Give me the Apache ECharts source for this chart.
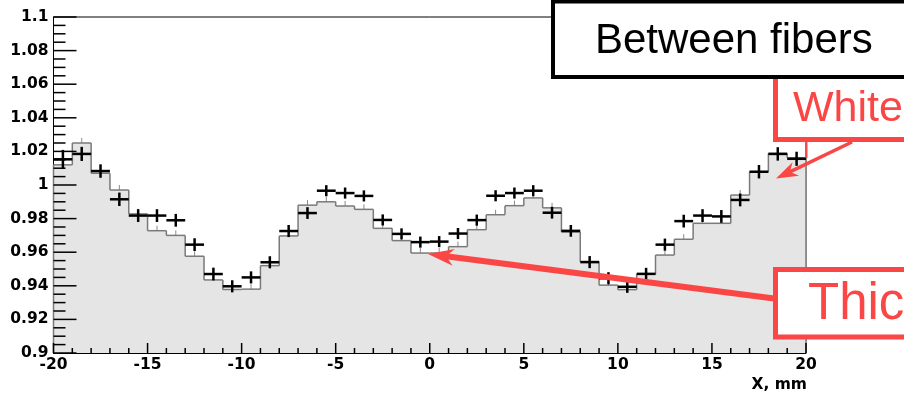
<!DOCTYPE html>
<html><head><meta charset="utf-8">
<script src="https://cdn.jsdelivr.net/npm/echarts@6/dist/echarts.min.js"></script>
<style>html,body{margin:0;padding:0;background:#fff}#c{width:904px;height:396px}</style>
</head><body><div id="c"></div>
<script>
// ---- data ----
const binCenters = [-19.5,-18.5,-17.5,-16.5,-15.5,-14.5,-13.5,-12.5,-11.5,-10.5,
  -9.5,-8.5,-7.5,-6.5,-5.5,-4.5,-3.5,-2.5,-1.5,-0.5,
  0.5,1.5,2.5,3.5,4.5,5.5,6.5,7.5,8.5,9.5,
  10.5,11.5,12.5,13.5,14.5,15.5,16.5,17.5,18.5,19.5];
const binWidth = 1;
const histValues = [1.012,1.025,1.007,0.997,0.9828,0.9728,0.9700,0.9576,0.9435,0.9378,
  0.9380,0.9520,0.9697,0.9880,0.9900,0.9875,0.9855,0.9742,0.9669,0.9595,
  0.9595,0.9633,0.9734,0.9823,0.9877,0.9923,0.9864,0.9720,0.9544,0.9404,
  0.9377,0.9469,0.9583,0.9677,0.9772,0.9772,0.9940,1.0079,1.0188,1.0162];
const histErrors = [0.003,0.003,0.003,0.003,0.003,0.003,0.003,0.003,0.003,0.003,
  0.003,0.003,0.003,0.003,0.003,0.003,0.003,0.003,0.003,0.003,
  0.003,0.003,0.003,0.003,0.003,0.003,0.003,0.003,0.003,0.003,
  0.003,0.003,0.003,0.003,0.003,0.003,0.003,0.003,0.003,0.003];
const pointValues = [1.0153,1.0185,1.0083,0.9915,0.9818,0.9818,0.9790,0.9645,0.9470,0.9397,
  0.9450,0.9540,0.9726,0.9833,0.9966,0.9952,0.9935,0.9792,0.9709,0.9660,
  0.9663,0.9711,0.9791,0.9936,0.9952,0.9966,0.9835,0.9727,0.9541,0.9445,
  0.9394,0.9471,0.9645,0.9785,0.9818,0.9813,0.9911,1.0079,1.0185,1.0156];
const pointErrors = [0.0056,0.0042,0.0040,0.0040,0.0038,0.0038,0.0038,0.0038,0.0038,0.0036,
  0.0036,0.0036,0.0036,0.0035,0.0033,0.0033,0.0033,0.0033,0.0033,0.0033,
  0.0033,0.0033,0.0033,0.0033,0.0033,0.0033,0.0035,0.0035,0.0036,0.0036,
  0.0036,0.0036,0.0036,0.0038,0.0038,0.0038,0.0038,0.0040,0.0040,0.0042];
const xMin = -20, xMax = 20, xInterval = 5, xMinorStep = 1;
const yMin = 0.9, yMax = 1.1, yInterval = 0.02, yMinorStep = 0.005;
const titleText = 'Between fibers';
const labelWhite = 'White';
const labelThick = 'Thick';
const xAxisTitle = 'X, mm';

// ---- chart ----
const chart = echarts.init(document.getElementById('c'), null, {renderer: 'canvas'});
const RED = '#fb4646';
const labelFont = {color: '#000', fontWeight: 'bold', fontFamily: 'DejaVu Sans', fontSize: 15.5};
const G = {left: 53.5, right: 98, top: 17, bottom: 43};

const histData = histValues.map((v, i) => [binCenters[i], v, i === 0 ? yMin : histValues[i - 1], i === histValues.length - 1 ? 1 : 0, histErrors[i]]);
const pointData = pointValues.map((v, i) => [binCenters[i], v, pointErrors[i]]);

function renderFill(params, api) {
  const xc = api.value(0), v = api.value(1);
  const a = api.coord([xc - binWidth / 2, v]);
  const b = api.coord([xc + binWidth / 2, yMin]);
  return {type: 'rect', shape: {x: a[0], y: a[1], width: b[0] - a[0] + 0.6, height: b[1] - a[1]},
    style: {fill: '#e5e5e5'}};
}
function renderOutline(params, api) {
  const xc = api.value(0), v = api.value(1), prev = api.value(2), last = api.value(3), err = api.value(4);
  const a = api.coord([xc - binWidth / 2, v]);
  const b = api.coord([xc + binWidth / 2, v]);
  const p = api.coord([xc - binWidth / 2, prev]);
  const base = api.coord([xc + binWidth / 2, yMin]);
  const c0 = api.coord([xc, v]);
  const c1 = api.coord([xc, v + err]);
  const st = {stroke: '#7a7a7a', lineWidth: 1.5};
  const ch = [
    {type: 'line', shape: {x1: c0[0], y1: c0[1], x2: c1[0], y2: c1[1]}, style: {stroke: '#8a8a8a', lineWidth: 1}},
    {type: 'line', shape: {x1: a[0], y1: p[1], x2: a[0], y2: a[1]}, style: st},
    {type: 'line', shape: {x1: a[0], y1: a[1], x2: b[0], y2: b[1]}, style: st}
  ];
  if (last) ch.push({type: 'line', shape: {x1: b[0], y1: b[1], x2: b[0], y2: base[1]}, style: st});
  return {type: 'group', children: ch};
}
function renderCross(params, api) {
  const xc = api.value(0), v = api.value(1), e = api.value(2);
  const l = api.coord([xc - binWidth / 2, v]);
  const r = api.coord([xc + binWidth / 2, v]);
  const t = api.coord([xc, v + e]);
  const bt = api.coord([xc, v - e]);
  const st = {stroke: '#000', lineWidth: 2.5};
  return {type: 'group', children: [
    {type: 'line', shape: {x1: l[0], y1: l[1], x2: r[0], y2: r[1]}, style: st},
    {type: 'line', shape: {x1: t[0], y1: t[1], x2: bt[0], y2: bt[1]}, style: st}
  ]};
}

function arrow(x0, y0, x1, y1, headLen, headHalf, shaft, color) {
  const dx = x1 - x0, dy = y1 - y0, L = Math.hypot(dx, dy);
  const ux = dx / L, uy = dy / L, nx = -uy, ny = ux;
  const bx = x1 - ux * headLen, by = y1 - uy * headLen;
  const mx = x1 - ux * headLen * 0.7, my = y1 - uy * headLen * 0.7;
  return [
    {type: 'line', z: 100, shape: {x1: x0, y1: y0, x2: mx, y2: my}, style: {stroke: color, lineWidth: shaft}},
    {type: 'polygon', z: 101, shape: {points: [[x1, y1], [bx + nx * headHalf, by + ny * headHalf], [mx, my], [bx - nx * headHalf, by - ny * headHalf]]},
      style: {fill: color}}
  ];
}

chart.setOption({
  animation: false,
  backgroundColor: '#fff',
  grid: {left: G.left, right: G.right, top: G.top, bottom: G.bottom, show: true, borderColor: '#000', borderWidth: 1, backgroundColor: 'transparent'},
  xAxis: {
    type: 'value', min: xMin, max: xMax, interval: xInterval,
    axisLine: {show: true, onZero: false, lineStyle: {color: '#000', width: 1}},
    axisTick: {show: false},
    minorTick: {show: false},
    axisLabel: Object.assign({margin: 4}, labelFont),
    splitLine: {show: false}
  },
  yAxis: {
    type: 'value', min: yMin, max: yMax, interval: yInterval, position: 'left',
    axisLine: {show: true, onZero: false, lineStyle: {color: '#000', width: 1}},
    axisTick: {show: false},
    minorTick: {show: false},
    axisLabel: Object.assign({margin: 5, formatter: v => String(+v.toFixed(4))}, labelFont),
    splitLine: {show: false}
  },
  series: [
    {type: 'custom', renderItem: renderFill, data: histData, z: 1, silent: true},
    {type: 'custom', renderItem: renderOutline, data: histData, z: 2, silent: true},
    {type: 'custom', renderItem: renderCross, data: pointData, z: 3, silent: true}
  ]
});

// axis tick marks (ROOT style, inside the frame)
const W = 904 - G.left - G.right, H = 396 - G.top - G.bottom;
function toPx(x, y) {
  let p = null;
  try { p = chart.convertToPixel({xAxisIndex: 0, yAxisIndex: 0}, [x, y]); } catch (e) { p = null; }
  if (!p || !isFinite(p[0]) || !isFinite(p[1])) {
    p = [G.left + (x - xMin) / (xMax - xMin) * W, G.top + (yMax - y) / (yMax - yMin) * H];
  }
  return p;
}
const tickEls = [];
for (let k = 0; k <= Math.round((xMax - xMin) / xMinorStep); k++) {
  const x = xMin + k * xMinorStep;
  const major = k % Math.round(xInterval / xMinorStep) === 0;
  const p = toPx(x, yMin);
  const len = major ? 10 : 5;
  tickEls.push({type: 'rect', z: 50, shape: {x: p[0] - 0.75, y: p[1] - len, width: 1.5, height: len}, style: {fill: '#000'}});
}
for (let k = 0; k <= Math.round((yMax - yMin) / yMinorStep); k++) {
  const y = yMin + k * yMinorStep;
  const major = k % Math.round(yInterval / yMinorStep) === 0;
  const p = toPx(xMin, y);
  const len = major ? 23 : 12;
  tickEls.push({type: 'rect', z: 50, shape: {x: p[0], y: p[1] - 0.75, width: len, height: 1.5}, style: {fill: '#000'}});
}

const graphics = [
  ...tickEls,
  // White callout
  {type: 'rect', z: 100, shape: {x: 775.5, y: 40, width: 200, height: 99.5}, style: {fill: '#fff', stroke: RED, lineWidth: 5}},
  {type: 'text', z: 102, style: {x: 793, y: 109, text: labelWhite, fill: RED, font: '43px "Liberation Sans", Arial, sans-serif', verticalAlign: 'middle', align: 'left'}},
  ...arrow(852, 142, 776, 178.5, 22, 7.5, 3.5, RED),
  {type: 'line', z: 100, shape: {x1: 806.5, y1: 141, x2: 806.5, y2: 158}, style: {stroke: RED, lineWidth: 2}},
  // Thick callout
  ...arrow(778, 299, 428, 254, 26, 8.5, 6, RED),
  {type: 'rect', z: 100, shape: {x: 775.5, y: 269.5, width: 200, height: 67.5}, style: {fill: '#fff', stroke: RED, lineWidth: 5}},
  {type: 'text', z: 102, style: {x: 808, y: 304.5, text: labelThick, fill: RED, font: '51px "Liberation Sans", Arial, sans-serif', verticalAlign: 'middle', align: 'left'}},
  // Title box
  {type: 'rect', z: 103, shape: {x: 553, y: 1.5, width: 400, height: 75.5}, style: {fill: '#fff', stroke: '#000', lineWidth: 4}},
  {type: 'text', z: 104, style: {x: 595, y: 41, text: titleText, fill: '#000', font: '42px "Liberation Sans", Arial, sans-serif', verticalAlign: 'middle', align: 'left'}},
  // x axis title
  {type: 'text', z: 100, style: {x: 807, y: 385, text: xAxisTitle, fill: '#000', font: 'bold 15.5px "DejaVu Sans", sans-serif', verticalAlign: 'middle', align: 'right'}}
];
chart.setOption({graphic: graphics});
</script></body></html>
